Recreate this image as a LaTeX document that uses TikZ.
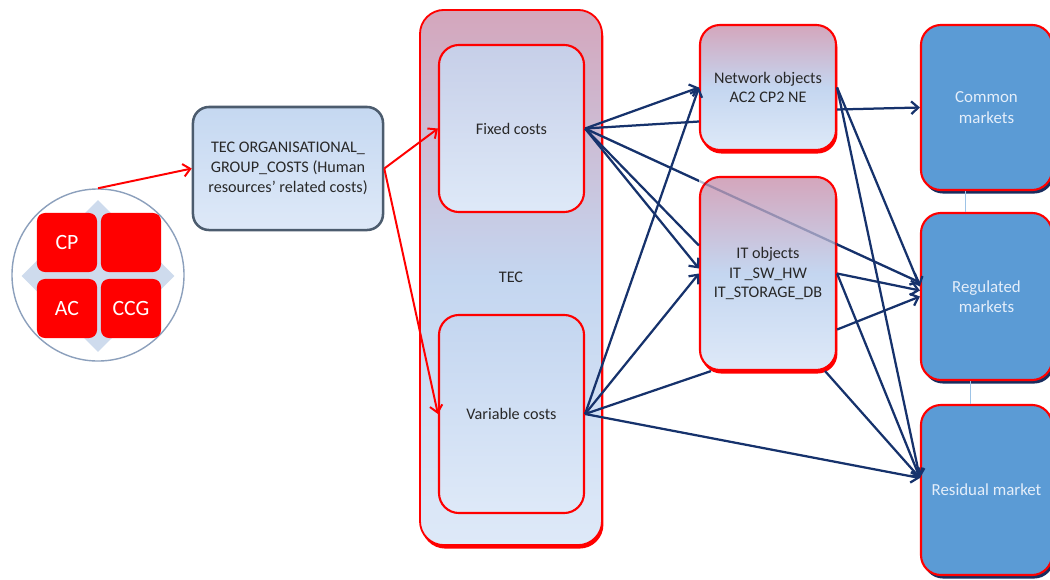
\documentclass[tikz,border=0pt]{standalone}
\usepackage{fontspec}
\setmainfont{Carlito}
\usetikzlibrary{arrows.meta,shapes.geometric,shadows}

\definecolor{navyline}{RGB}{22,50,108}
\definecolor{textdark}{RGB}{40,40,40}
\definecolor{orgborder}{RGB}{76,92,110}
\definecolor{ringgray}{RGB}{140,160,188}
\definecolor{crossblue}{RGB}{206,219,237}
\definecolor{mktblue}{RGB}{91,155,213}
\definecolor{mktshadow}{RGB}{25,45,95}
\definecolor{mkttext}{RGB}{228,238,250}
\definecolor{pinktop}{RGB}{212,166,188}
\definecolor{bluemid}{RGB}{196,214,240}
\definecolor{bluelow}{RGB}{222,233,248}
\definecolor{orgtop}{RGB}{197,216,241}

\begin{document}
\begin{tikzpicture}[x=0.025cm, y=-0.025cm,
	costbox/.style={shape=rectangle, draw=red, line width=1.5pt,
		rounded corners=0.5cm, align=center, text=textdark,
		font=\fontsize{11.5}{14}\selectfont},
	pinkbox/.style={costbox, top color=pinktop, bottom color=bluelow,
		middle color=bluemid,
		drop shadow={shadow xshift=1pt, shadow yshift=-2.5pt,
			fill=red, opacity=1}},
	mktbox/.style={costbox, fill=mktblue, text=mkttext,
		font=\fontsize{12}{14.5}\selectfont,
		drop shadow={shadow xshift=1.5pt, shadow yshift=-2.5pt,
			fill=mktshadow, opacity=1}},
	redsq/.style={shape=rectangle, fill=red, rounded corners=0.2cm,
		minimum width=1.5cm, minimum height=1.475cm, text=white,
		font=\fontsize{15.5}{17}\selectfont},
	navyarrow/.style={draw=navyline, line width=1.6pt,
		-{Straight Barb[length=5pt, width=9pt]}},
	navyplain/.style={draw=navyline, line width=1.6pt},
	redarrow/.style={draw=red, line width=1.4pt,
		-{Straight Barb[length=5pt, width=9pt]}}]
	\useasboundingbox (0, 0) rectangle (1050, 579);
	\clip (0, 0) rectangle (1050, 579);

	% Group circle with the four red squares
	\node[shape=circle, draw=ringgray, fill=white, line width=1pt,
	minimum size=4.3cm] (grp) at (98, 275){};
	\node[shape=diamond, fill=crossblue, minimum width=3.825cm,
	minimum height=3.8cm, inner sep=0pt] (cross) at (98, 276){};
	\node[redsq] (sqCP) at (67, 242.5){CP};
	\node[redsq] (sqTR) at (131, 242.5){};
	\node[redsq] (sqAC) at (67, 308.5){AC};
	\node[redsq] (sqCCG) at (131, 308.5){CCG};

	% Organisational costs box
	\node[shape=rectangle, draw=orgborder, line width=1.8pt,
	rounded corners=0.4cm, top color=orgtop, bottom color=bluelow,
	minimum width=4.75cm, minimum height=3.075cm, align=center,
	text=textdark, font=\fontsize{11.5}{14}\selectfont]
	(org) at (288, 168.5){TEC ORGANISATIONAL\_\\GROUP\_COSTS (Human\\resources' related costs)};

	% TEC with fixed and variable costs inside
	\node[pinkbox, rounded corners=0.6cm, minimum width=4.55cm,
	minimum height=13.375cm, line width=1.3pt] (TEC) at (511, 277.5){TEC};
	\node[costbox, top color=bluemid!85!pinktop, bottom color=bluelow,
	minimum width=3.625cm, minimum height=4.175cm] (FC) at (511.5, 128.5){Fixed costs};
	\node[costbox, top color=bluemid, bottom color=bluelow,
	minimum width=3.625cm, minimum height=4.95cm] (VC) at (511.5, 414){Variable costs};

	% Network objects and IT objects
	\node[pinkbox, minimum width=3.4cm, minimum height=3.125cm]
	(NO) at (768, 87.5){Network objects\\AC2 CP2 NE};
	\node[pinkbox, minimum width=3.4cm, minimum height=4.825cm]
	(IT) at (768, 273.5){IT objects\\IT \_SW\_HW\\IT\_STORAGE\_DB};

	% Markets
	\node[mktbox, minimum width=3.275cm, minimum height=4.125cm]
	(CM) at (986.5, 107.5){Common\\markets};
	\node[mktbox, minimum width=3.275cm, minimum height=4.175cm]
	(RM) at (986.5, 296.5){Regulated\\markets};
	\node[mktbox, minimum width=3.275cm, minimum height=4.25cm]
	(RS) at (986.5, 490){Residual market};
	\draw[draw=mktblue!60, line width=0.6pt]
	([xshift=-0.525cm]CM.south) -- ([xshift=-0.525cm]RM.north);
	\draw[draw=mktblue!60, line width=0.6pt]
	([xshift=-0.4cm]RM.south) -- ([xshift=-0.4cm]RS.north);

	\coordinate (F) at (FC.east);
	\coordinate (V) at (VC.east);

	% Fixed costs line: faint where it crosses the IT box
	\draw[navyplain, opacity=0.3] (F) -- ([yshift=0.35cm]RM.west);
	\begin{scope}[even odd rule]
		\clip (0, 0) rectangle (1050, 579)
		(IT.north west) rectangle (IT.south east);
		\draw[navyarrow] (F) -- ([yshift=0.35cm]RM.west);
	\end{scope}

	% Red arrows
	\draw[redarrow] (grp.north) -- (org.west);
	\draw[redarrow] (org.east) -- (FC.west);
	\draw[redarrow] (org.east) -- (VC.west);

	% From fixed costs
	\draw[navyarrow] (F) -- (NO.west);
	\draw[navyplain] (F) -- ([yshift=-0.85cm]NO.west);
	\draw[navyplain] (F) -- ([yshift=0.7cm]IT.west);
	\draw[navyarrow] (F) -- ([yshift=0.125cm]IT.west);

	% From variable costs
	\draw[navyarrow] (V) -- (NO.west);
	\draw[navyarrow] (V) -- (IT.west);
	\draw[navyplain] (V) -- ([xshift=0.3cm]IT.south west);
	\draw[navyarrow] (V) -- ([yshift=0.3cm]RS.west);

	% From network objects
	\draw[navyarrow] ([yshift=-0.55cm]NO.east) -- (CM.west);
	\draw[navyarrow] (NO.east) -- ([yshift=0.25cm]RM.west);
	\draw[navyarrow] (NO.east) -- ([yshift=0.3cm]RS.west);

	% From IT objects
	\draw[navyarrow] (IT.east) -- ([yshift=0.15cm]RM.west);
	\draw[navyarrow] (IT.east) -- ([yshift=0.3cm]RS.west);
	\draw[navyarrow] ([yshift=-1.4cm]IT.east) -- (RM.west);
	\draw[navyarrow] ([xshift=-0.3cm]IT.south east) -- ([yshift=0.3cm]RS.west);
\end{tikzpicture}
\end{document}
